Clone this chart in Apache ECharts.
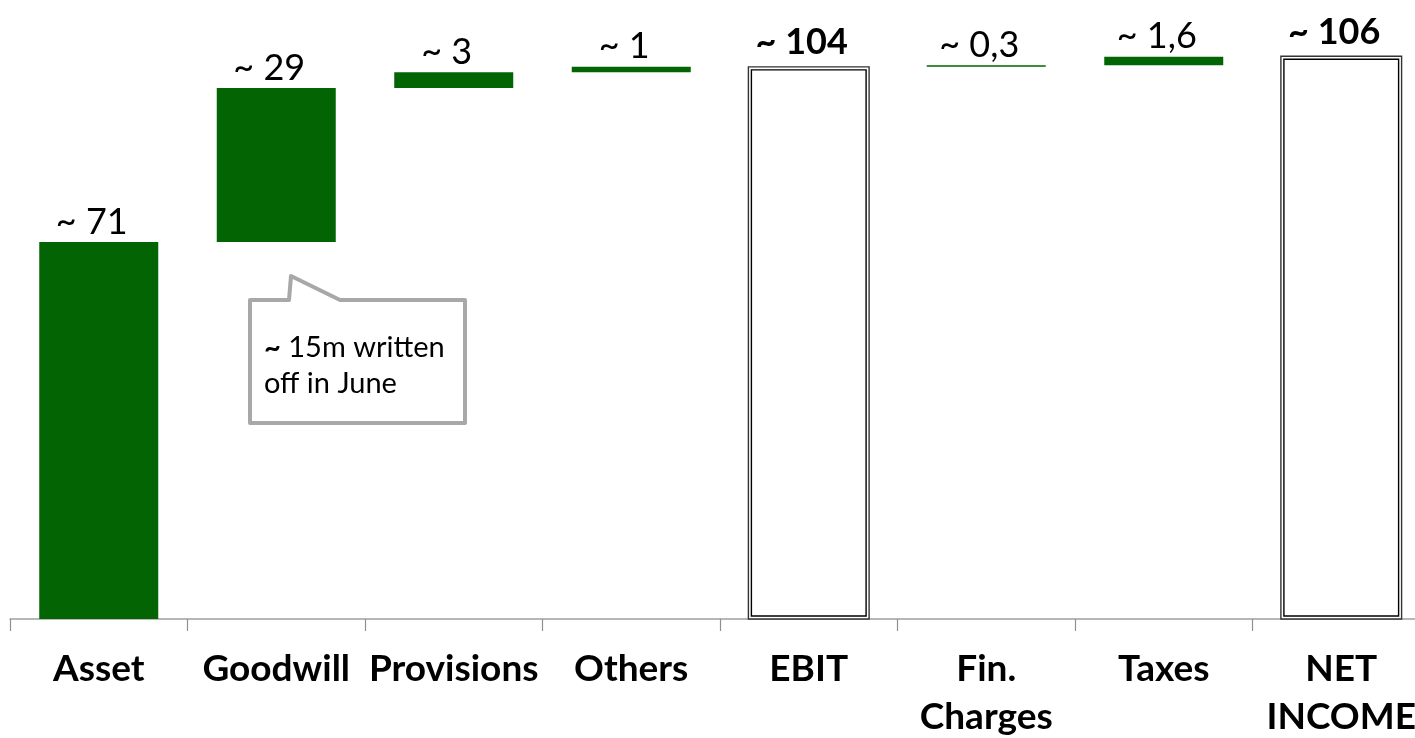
<!DOCTYPE html>
<html>
<head>
<meta charset="utf-8">
<script src="https://cdn.jsdelivr.net/npm/echarts@6/dist/echarts.min.js"></script>
<style>
  html, body { margin: 0; padding: 0; background: #ffffff; }
  #chart { width: 1415px; height: 738px; }
</style>
</head>
<body>
<div id="chart"></div>
<script>
// Bridge from asset items to EBIT and on to net income
const categories = ['Asset', 'Goodwill', 'Provisions', 'Others', 'EBIT', 'Fin.\nCharges', 'Taxes', 'NET\nINCOME'];
// step contributions (null where a subtotal stands)
const steps = [71, 29, 3, 1, null, 0.3, 1.6, null];
// subtotal columns
const totals = [null, null, null, null, 104, null, null, 106];
const valueLabels = ['~ 71', '~ 29', '~ 3', '~ 1', '~ 104', '~ 0,3', '~ 1,6', '~ 106'];
const noteText = '~ 15m written\noff in June';

// invisible offsets that float each step on the running total
const bases = [];
let running = 0;
for (let i = 0; i < categories.length; i++) {
  if (totals[i] != null) {
    running = totals[i];
    bases.push(null);
  } else {
    bases.push(running);
    running += steps[i];
  }
}

const GREEN = '#026402';
const FONT = 'Lato, "Open Sans", sans-serif';

const chart = echarts.init(document.getElementById('chart'), null, { renderer: 'canvas' });

chart.setOption({
  animation: false,
  backgroundColor: '#ffffff',
  grid: { left: 10, top: 35, width: 1420, height: 584, outerBoundsMode: 'none', containLabel: false },
  xAxis: {
    type: 'category',
    data: categories,
    boundaryGap: true,
    axisLine: { lineStyle: { color: '#a0a0a0', width: 1.5 } },
    axisTick: { show: true, length: 12, alignWithLabel: false, lineStyle: { color: '#909090', width: 1.2 } },
    axisLabel: {
      interval: 0,
      margin: 26,
      color: '#000000',
      fontFamily: FONT,
      fontWeight: 'bold',
      fontSize: 37,
      lineHeight: 48
    }
  },
  yAxis: {
    type: 'value',
    min: 0,
    max: 110,
    show: false,
    splitLine: { show: false }
  },
  series: [
    {
      name: 'base',
      type: 'bar',
      stack: 'bridge',
      barWidth: 119,
      itemStyle: { color: 'transparent' },
      emphasis: { disabled: true },
      data: bases
    },
    {
      name: 'step',
      type: 'bar',
      stack: 'bridge',
      barWidth: 119,
      itemStyle: { color: GREEN },
      emphasis: { disabled: true },
      label: {
        show: true,
        position: 'top',
        distance: 2,
        offset: [-7, 0],
        color: '#000000',
        fontFamily: FONT,
        fontSize: 36,
        formatter: p => valueLabels[p.dataIndex]
      },
      data: steps
    },
    {
      name: 'total',
      type: 'custom',
      renderItem: function (params, api) {
        const v = api.value(1);
        if (v == null || isNaN(v)) return null;
        const idx = api.value(0);
        const top = api.coord([idx, v]);
        const bottom = api.coord([idx, 0]);
        const w = api.size([1, 0])[0] * 0.68;
        const x = top[0] - w / 2;
        const h = bottom[1] - top[1];
        const inset = 3;
        return {
          type: 'group',
          children: [
            {
              type: 'rect',
              shape: { x: x, y: top[1], width: w, height: h },
              style: { fill: '#ffffff', stroke: '#333333', lineWidth: 1.4 }
            },
            {
              type: 'rect',
              shape: { x: x + inset, y: top[1] + inset, width: w - 2 * inset, height: h - 2 * inset },
              style: { fill: 'none', stroke: '#000000', lineWidth: 1.4 }
            },
            {
              type: 'text',
              x: top[0] - 7,
              y: top[1] - 6,
              style: {
                text: valueLabels[idx],
                fill: '#000000',
                font: 'bold 36px ' + FONT,
                align: 'center',
                verticalAlign: 'bottom'
              }
            }
          ]
        };
      },
      encode: { x: 0, y: 1 },
      data: totals.map((v, i) => [i, v])
    }
  ],
  graphic: [
    {
      type: 'polygon',
      shape: {
        points: [[250, 300], [289, 300], [291, 276], [340, 300], [465, 300], [465, 423], [250, 423]]
      },
      style: { fill: '#ffffff', stroke: '#a8a8a8', lineWidth: 4, lineJoin: 'round' }
    },
    {
      type: 'text',
      x: 264,
      y: 330,
      style: {
        text: '{b|~}' + noteText.slice(1),
        rich: {
          b: { fontWeight: 'bold', fontSize: 29, fontFamily: FONT, fill: '#000000', lineHeight: 36 }
        },
        font: '29px ' + FONT,
        fill: '#000000',
        lineHeight: 36
      }
    }
  ]
});
</script>
</body>
</html>
